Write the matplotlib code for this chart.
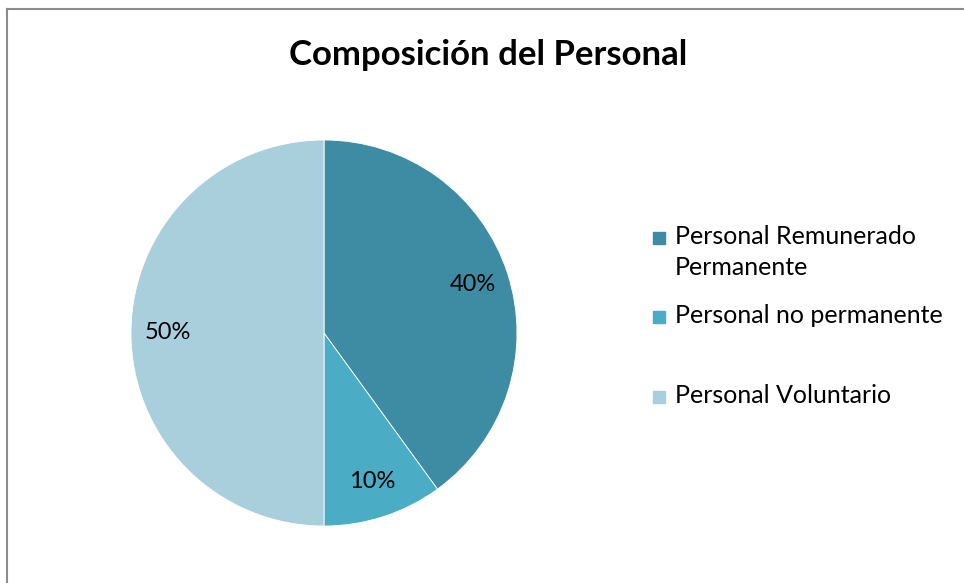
import matplotlib.pyplot as plt
from matplotlib.patches import Rectangle

labels = ["Personal Remunerado\nPermanente", "Personal no permanente", "Personal Voluntario"]
values = [40, 10, 50]
colors = ["#3E8CA4", "#4BACC6", "#A9CEDC"]
title = "Composición del Personal"

plt.rcParams['font.family'] = ['Lato', 'DejaVu Sans']

fig = plt.figure(figsize=(9.64, 5.83), dpi=100)
W, H = 964, 583

# chart border (only top and left visible)
fig.add_artist(plt.Line2D([6.5 / W, 6.5 / W], [0, 1 - 8.5 / H], color="#8c8c8c", lw=1.5))
fig.add_artist(plt.Line2D([6.5 / W, 1], [1 - 8.5 / H, 1 - 8.5 / H], color="#8c8c8c", lw=1.5))

cx, cy, r = 324, 333, 193
ax = fig.add_axes([(cx - r) / W, (H - cy - r) / H, 2 * r / W, 2 * r / H])
wedges, _, autotexts = ax.pie(values, colors=colors, startangle=90, counterclock=False,
                              autopct="%d%%", pctdistance=0.81, radius=1,
                              wedgeprops=dict(linewidth=0.6, edgecolor="white"),
                              textprops=dict(fontsize=17, color="black"))
ax.set_xlim(-1, 1)
ax.set_ylim(-1, 1)
ax.set_aspect("equal")

fig.text(488 / W, 1 - 55 / H, title, ha="center", va="center", fontsize=25, fontweight="bold")

# legend drawn by hand to mimic the spacing
leg_y = [238, 317, 397]
for lab, col, y in zip(labels, colors, leg_y):
    fig.add_artist(Rectangle((653 / W, 1 - (y + 6) / H), 12 / W, 12 / H, color=col,
                             transform=fig.transFigure))
    fig.text(675 / W, 1 - (y - 13) / H, lab, ha="left", va="top", fontsize=18, linespacing=1.4)

fig.savefig("out.png", dpi=100)
